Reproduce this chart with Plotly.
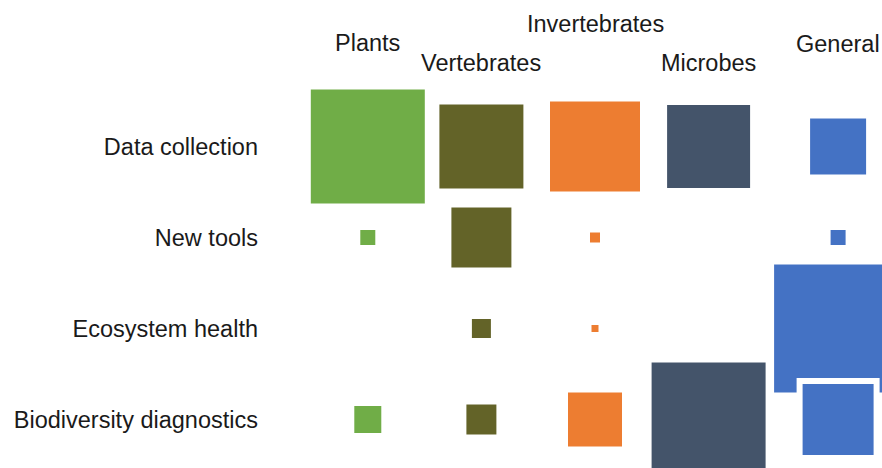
import plotly.graph_objects as go

# ---- data ----
categories = ["Plants", "Vertebrates", "Invertebrates", "Microbes", "General"]
topics = ["Data collection", "New tools", "Ecosystem health", "Biodiversity diagnostics"]

plants = [114, 15, 0, 27]
vertebrates = [84, 60, 19, 30]
invertebrates = [90, 10, 7, 54]
microbes = [83, 0, 0, 114]
general = [56, 15, 128, 71]

series = [plants, vertebrates, invertebrates, microbes, general]
colors = ["#70AD47", "#636328", "#ED7D31", "#44546A", "#4472C4"]

# vertical offset of the column headers (px above the plot top)
header_shift = [58, 38, 77, 38, 57]
# the "General" column sits a little further right than the others
axis_of = ["x", "x", "x", "x", "x2"]
GENERAL_GAP = 0.14  # extra spacing (in category units) before "General"

SCALE = 1.0   # visible marker side in px per unit
RING = 6      # white separating outline width (px); half of it lies inside

fig = go.Figure()
for cat, vals, col, ax in zip(categories, series, colors, axis_of):
    xs, ys, ss = [], [], []
    for t, v in zip(topics, vals):
        if v > 0:
            xs.append(cat)
            ys.append(t)
            ss.append(v * SCALE + RING)
    fig.add_trace(go.Scatter(
        x=xs, y=ys, mode="markers", xaxis=ax, yaxis="y",
        marker=dict(symbol="square", size=ss, color=col, opacity=1,
                    line=dict(width=RING, color="white")),
        opacity=1, cliponaxis=False, showlegend=False, hoverinfo="x+y",
    ))

for cat, sh, ax in zip(categories, header_shift, axis_of):
    fig.add_annotation(x=cat, y=1, xref=ax, yref="paper", text=cat,
                       showarrow=False, yanchor="middle", yshift=sh,
                       font=dict(size=23.5, color="#1a1a1a"))

axis_common = dict(type="category", categoryorder="array", categoryarray=categories,
                   showticklabels=False, showgrid=False, zeroline=False,
                   showline=False, fixedrange=True)

fig.update_layout(
    width=882, height=468,
    margin=dict(l=311, r=3, t=101, b=3),
    paper_bgcolor="white", plot_bgcolor="white",
    font=dict(family="Arial, Liberation Sans, sans-serif", size=23.5, color="#1a1a1a"),
    xaxis=dict(range=[-0.5, 4.5], **axis_common),
    xaxis2=dict(range=[-0.5 - GENERAL_GAP, 4.5 - GENERAL_GAP], overlaying="x",
                **axis_common),
    yaxis=dict(type="category", categoryorder="array", categoryarray=topics,
               range=[3.5, -0.5], showgrid=False, zeroline=False, showline=False,
               ticks="", ticklabelstandoff=52, fixedrange=True),
)

fig.write_html("out.html", config={"displayModeBar": False},
               post_script="document.body.style.margin='0';document.body.style.overflow='hidden';")
